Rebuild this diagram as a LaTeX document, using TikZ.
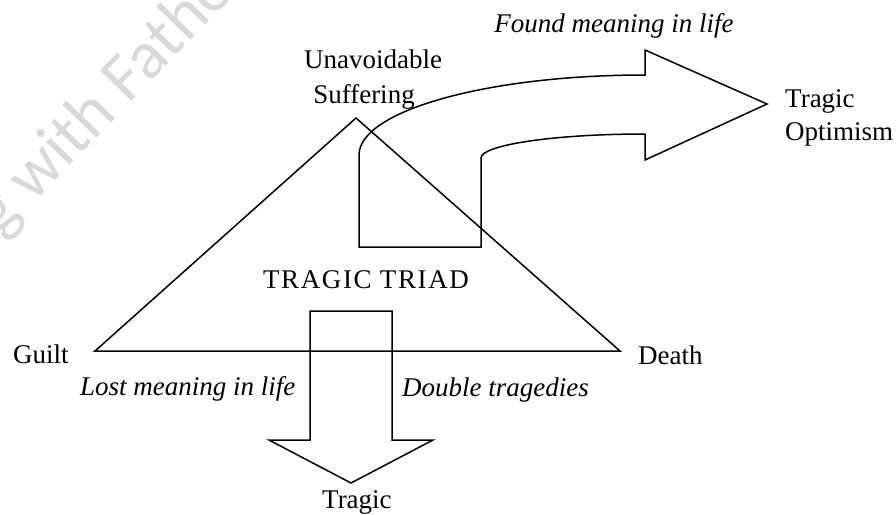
\documentclass[tikz,border=0pt]{standalone}
\usepackage{fontspec}
\newfontfamily\tnr{LiberationSerif}[Extension=.ttf,UprightFont=*-Regular,ItalicFont=*-Italic,BoldFont=*-Bold]
\newfontfamily\tnrwide{LiberationSerif}[Extension=.ttf,UprightFont=*-Regular,LetterSpace=6]
\newfontfamily\wmfont{Carlito}
\begin{document}
\begin{tikzpicture}[x=1pt,y=-1pt,
  shape line/.style={draw=black,line width=1.5pt,line join=miter},
  lbl/.style={inner sep=0pt,font=\tnr\fontsize{27}{30}\selectfont},
  ilbl/.style={inner sep=0pt,font=\tnr\fontsize{27}{30}\selectfont\itshape},
  wm/.style={inner sep=0pt,text=black!15,font=\wmfont\fontsize{68}{72}\selectfont}]
\useasboundingbox (0,0) rectangle (896,514);
% watermark
\begin{scope}
\clip (0,0) rectangle (896,514);
\node[wm,anchor=base west,rotate=46] (wmark) at (0,238) {g with Fathe};
\end{scope}
% triangle
\coordinate (apex) at (356,118);
\coordinate (lft) at (95,351);
\coordinate (rgt) at (620,351);
\draw[shape line] (apex) -- (lft) -- (rgt) -- cycle;
% bent arrow
\draw[shape line] (359,247) -- (359,155)
  .. controls (359,111) and (487,75) .. (645,75)
  -- (645,50) -- (767,104) -- (645,160) -- (645,134)
  .. controls (554,134) and (481,145) .. (481,158)
  -- (481,247) -- cycle;
% down arrow
\draw[shape line] (310,311) -- (392,311) -- (392,440) -- (433,440)
  -- (351,483) -- (269,440) -- (310,440) -- cycle;
% labels
\node[ilbl,anchor=base] (found) at (614,32) {Found meaning in life};
\node[lbl,anchor=base] (unav) at (373,68) {Unavoidable};
\node[lbl,anchor=base] (suff) at (364,103) {Suffering};
\node[lbl,anchor=base west] (trag1) at (785,107) {Tragic};
\node[lbl,anchor=base west] (optim) at (785,140) {Optimism};
\node[inner sep=0pt,font=\tnrwide\fontsize{27}{30}\selectfont,anchor=base] (triad) at (366,288) {TRAGIC TRIAD};
\node[lbl,anchor=base west] (guilt) at (13,363) {Guilt};
\node[lbl,anchor=base west] (death) at (638,364) {Death};
\node[ilbl,anchor=base west] (lost) at (80,395) {Lost meaning in life};
\node[ilbl,anchor=base west] (double) at (402,396) {Double tragedies};
\node[lbl,anchor=base west] (trag2) at (322,508) {Tragic};
\end{tikzpicture}
\end{document}
